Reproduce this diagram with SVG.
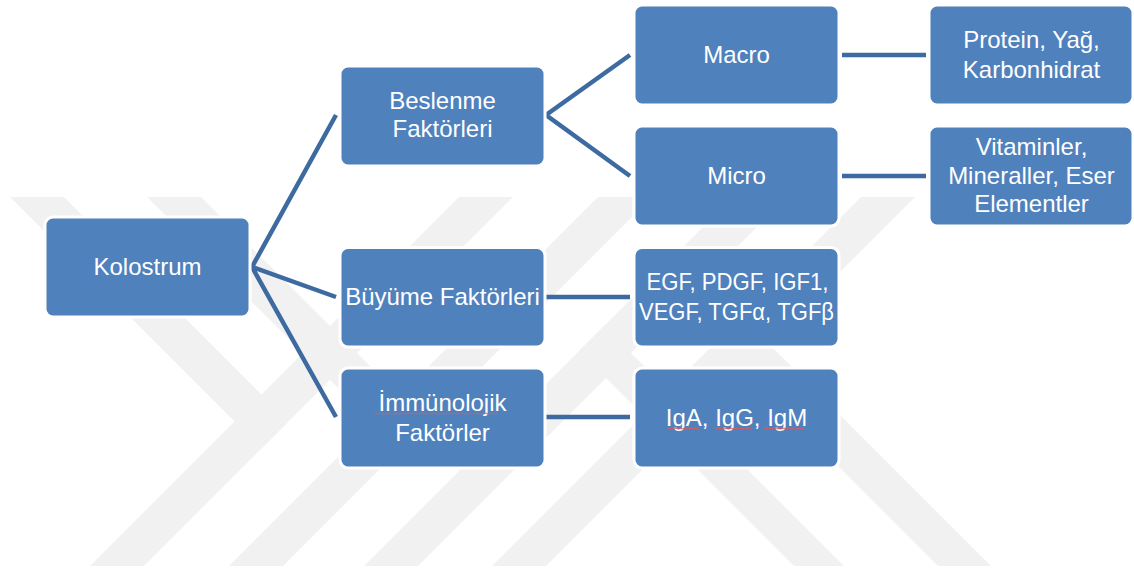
<svg xmlns="http://www.w3.org/2000/svg" width="1134" height="572" viewBox="0 0 1134 572">
  <style>
    .wm { fill: #f1f1f1; }
    .conn { fill: none; stroke: #3d6aa0; stroke-width: 4.5; stroke-linejoin: miter; }
    .box { fill: #4f81bd; stroke: #ffffff; stroke-width: 3; }
    .lbl { font-family: "Liberation Sans", Arial, sans-serif; font-size: 24px; fill: #ffffff; text-anchor: middle; }
    .sq { fill: none; stroke: #e05a5a; stroke-width: 1; }
  </style>
  <defs>
    <clipPath id="wmclip"><rect x="0" y="197" width="1134" height="369"/></clipPath>
  </defs>
  <rect x="0" y="0" width="1134" height="572" fill="#ffffff"/>
  <g id="watermark" clip-path="url(#wmclip)">
    <polygon class="wm" points="459,197 513,197 144,566 90,566"/>
    <polygon class="wm" points="598,197 652,197 283,566 229,566"/>
    <polygon class="wm" points="733,197 787,197 418,566 364,566"/>
    <polygon class="wm" points="861,197 915,197 546,566 492,566"/>
    <polygon class="wm" points="10,197 64,197 288.5,421.5 261.5,448.5"/>
    <polygon class="wm" points="147,197 201,197 426.5,422.5 399.5,449.5"/>
    <polygon class="wm" points="579,351 604,326 844,566 794,566"/>
    <polygon class="wm" points="715,343 741.5,316.5 991,566 938,566"/>
  </g>
  <g id="connectors">
    <path class="conn" d="M336,115 L252,267 L336,297 M252,267 L336,417"/>
    <path class="conn" d="M630,55 L546,115 L630,176"/>
    <path class="conn" d="M842,55 L926,55"/>
    <path class="conn" d="M842,176 L926,176"/>
    <path class="conn" d="M546,297 L630,297"/>
    <path class="conn" d="M546,417 L630,417"/>
  </g>
  <g id="kolostrum">
    <rect class="box" x="45" y="217" width="205" height="100" rx="8"/>
    <text class="lbl" x="147.5" y="275">Kolostrum</text>
  </g>
  <g id="beslenme">
    <rect class="box" x="340" y="66" width="205" height="100" rx="8"/>
    <text class="lbl" x="442.5" y="109">Beslenme</text>
    <text class="lbl" x="442.5" y="137">Faktörleri</text>
  </g>
  <g id="buyume">
    <rect class="box" x="340" y="247.5" width="205" height="99.5" rx="8"/>
    <text class="lbl" x="442.5" y="305">Büyüme Faktörleri</text>
  </g>
  <g id="immunolojik">
    <rect class="box" x="340" y="368" width="205" height="100" rx="8"/>
    <text class="lbl" x="442.5" y="411">İmmünolojik</text>
    <text class="lbl" x="442.5" y="441">Faktörler</text>
    <path class="sq" d="M374,413 l2,1 2,-1 2,1 2,-1 2,1 2,-1 2,1 2,-1 2,1 2,-1 2,1 2,-1 2,1 2,-1 2,1 2,-1 2,1 2,-1 2,1 2,-1 2,1 2,-1 2,1 2,-1 2,1 2,-1 2,1 2,-1 2,1 2,-1 2,1 2,-1 2,1 2,-1 2,1 2,-1 2,1 2,-1 2,1 2,-1 2,1 2,-1 2,1 2,-1 2,1 2,-1 2,1 2,-1 2,1 2,-1 2,1 2,-1 2,1 2,-1 2,1 2,-1 2,1 2,-1 2,1 2,-1 2,1 2,-1"/>
  </g>
  <g id="macro">
    <rect class="box" x="634" y="5" width="205" height="100" rx="8"/>
    <text class="lbl" x="736.5" y="63">Macro</text>
  </g>
  <g id="micro">
    <rect class="box" x="634" y="126" width="205" height="100" rx="8"/>
    <text class="lbl" x="736.5" y="184">Micro</text>
  </g>
  <g id="buyume-faktorleri-list">
    <rect class="box" x="634" y="247.5" width="205" height="99.5" rx="8"/>
    <text class="lbl" x="737.5" y="290" textLength="182" lengthAdjust="spacingAndGlyphs">EGF, PDGF, IGF1,</text>
    <text class="lbl" x="736.5" y="320" textLength="195" lengthAdjust="spacingAndGlyphs">VEGF, TGFα, TGFβ</text>
  </g>
  <g id="immunoglobulinler">
    <rect class="box" x="634" y="368" width="205" height="100" rx="8"/>
    <text class="lbl" x="736.5" y="426">IgA, IgG, IgM</text>
    <path class="sq" d="M668,428 l2,1 2,-1 2,1 2,-1 2,1 2,-1 2,1 2,-1 2,1 2,-1 2,1 2,-1 2,1 2,-1 2,1 2,-1"/>
    <path class="sq" d="M715,428 l2,1 2,-1 2,1 2,-1 2,1 2,-1 2,1 2,-1 2,1 2,-1 2,1 2,-1 2,1 2,-1 2,1 2,-1 2,1 2,-1"/>
    <path class="sq" d="M764,428 l2,1 2,-1 2,1 2,-1 2,1 2,-1 2,1 2,-1 2,1 2,-1 2,1 2,-1 2,1 2,-1 2,1 2,-1 2,1 2,-1 2,1 2,-1"/>
  </g>
  <g id="makro-icerik">
    <rect class="box" x="929" y="5" width="204" height="100" rx="8"/>
    <text class="lbl" x="1031.5" y="48">Protein, Yağ,</text>
    <text class="lbl" x="1031.5" y="78">Karbonhidrat</text>
  </g>
  <g id="mikro-icerik">
    <rect class="box" x="929" y="126" width="204" height="100" rx="8"/>
    <text class="lbl" x="1031.5" y="155">Vitaminler,</text>
    <text class="lbl" x="1031.5" y="184">Mineraller, Eser</text>
    <text class="lbl" x="1031.5" y="212">Elementler</text>
  </g>
</svg>
